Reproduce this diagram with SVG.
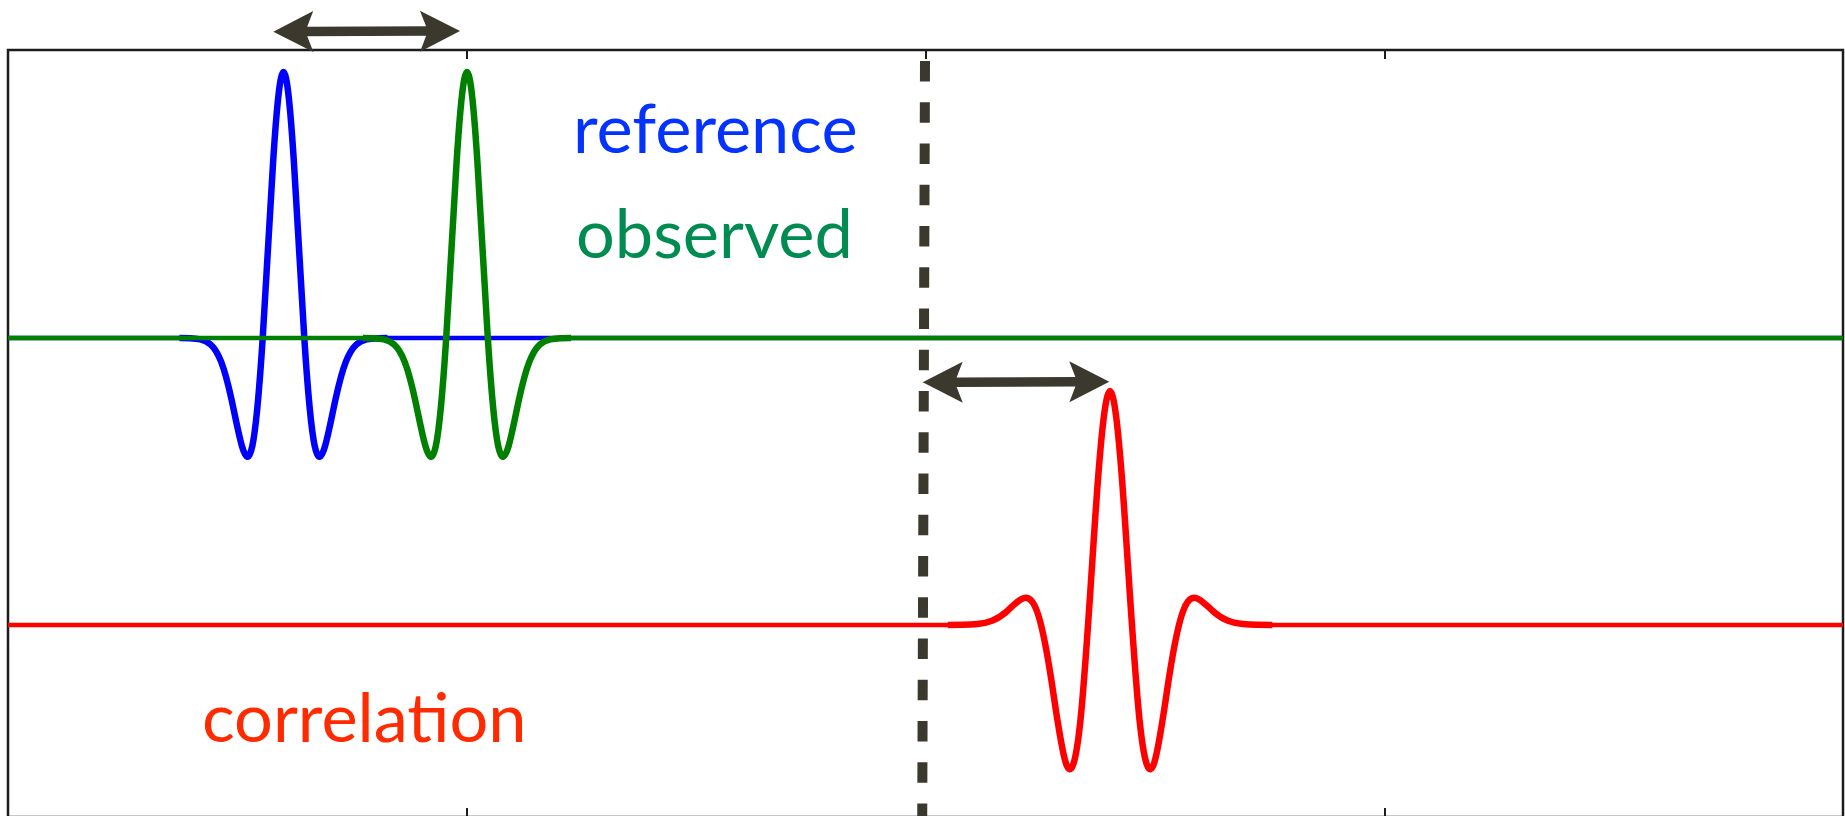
<svg xmlns="http://www.w3.org/2000/svg" xmlns:xlink="http://www.w3.org/1999/xlink" width="1845" height="816" viewBox="0 0 1845 816">
<style>
.frame{fill:none;stroke:#1c1c1c;stroke-width:2.5}
.tick{stroke:#1c1c1c;stroke-width:2}
.base{fill:none;stroke-width:4.3}
.wave{fill:none;stroke-width:6.5;stroke-linejoin:round;stroke-linecap:butt}
.blue{stroke:#0000ff}
.green{stroke:#008000}
.red{stroke:#ff0000}
.dash{stroke:#3b392e;stroke-width:10;stroke-dasharray:20.5 20.75}
.arrow{stroke:#3b392e;stroke-width:9.5;marker-start:url(#ah);marker-end:url(#ah)}
.lbl{font-family:Lato,"Liberation Sans",sans-serif;font-size:68.5px}
</style>
<defs>
<marker id="ah" viewBox="-2 -22 46 44" markerWidth="46" markerHeight="44" refX="8" refY="0" orient="auto-start-reverse" markerUnits="userSpaceOnUse">
<path d="M0,-20.5 L40,0 L0,20.5 L6,5 L6,-5 Z" fill="#3b392e"/>
</marker>
<path id="ricker" d="M-104,0 C-100.53,0 -97.07,0.06 -93.6,0.20 C-90.13,0.34 -86.67,0.57 -83.2,1.34 C-79.73,2.11 -76.27,3.40 -72.8,6.54 C-69.33,9.68 -65.87,14.78 -62.4,23.64 C-58.93,32.50 -55.47,45.53 -52,61.36 C-48.53,77.19 -45.07,96.00 -41.6,108.00 C-38.13,120.00 -34.67,124.14 -31.2,107.95 C-27.73,91.76 -24.27,53.78 -20.8,0 C-17.33,-53.78 -13.87,-122.26 -10.4,-176.06 C-6.93,-229.86 -3.47,-266 0,-266 C3.47,-266 6.93,-229.86 10.4,-176.06 C13.87,-122.26 17.33,-53.78 20.8,0 C24.27,53.78 27.73,91.76 31.2,107.95 C34.67,124.14 38.13,120.00 41.6,108.00 C45.07,96.00 48.53,77.19 52,61.36 C55.47,45.53 58.93,32.50 62.4,23.64 C65.87,14.78 69.33,9.68 72.8,6.54 C76.27,3.40 79.73,2.11 83.2,1.34 C86.67,0.57 90.13,0.34 93.6,0.20 C97.07,0.06 100.53,0 104,0"/>
</defs>
<rect width="1845" height="816" fill="#ffffff"/>
<g id="axes">
<rect class="frame" x="8" y="50" width="1835" height="767"/>
<line class="tick" x1="467" y1="50" x2="467" y2="59"/>
<line class="tick" x1="926" y1="50" x2="926" y2="59"/>
<line class="tick" x1="1385" y1="50" x2="1385" y2="59"/>
<line class="tick" x1="467" y1="808" x2="467" y2="817"/>
<line class="tick" x1="1385" y1="808" x2="1385" y2="817"/>
</g>
<g id="reference-trace">
<line class="base blue" x1="8" y1="338" x2="180" y2="338"/>
<use xlink:href="#ricker" href="#ricker" class="wave blue" x="283.5" y="338"/>
<line class="base blue" x1="387" y1="338" x2="1843" y2="338"/>
</g>
<g id="observed-trace">
<line class="base green" x1="8" y1="338" x2="363.5" y2="338"/>
<use xlink:href="#ricker" href="#ricker" class="wave green" x="467" y="338"/>
<line class="base green" x1="570.5" y1="338" x2="1843" y2="338"/>
</g>
<g id="correlation-trace">
<line class="base red" x1="8" y1="625" x2="948" y2="625"/>
<path class="wave red" d="M947.75,625 C952.67,625 957.58,624.95 962.5,624.86 C967.42,624.77 972.33,624.61 977.25,624.09 C982.17,623.57 987.08,622.67 992,620.74 C996.92,618.81 1001.83,615.67 1006.75,611.43 C1011.67,607.19 1016.58,601.61 1021.5,599.01 C1026.42,596.41 1031.33,597.31 1036.25,609.36 C1041.17,621.41 1046.08,646.11 1051,677.78 C1055.92,709.45 1060.83,747.26 1065.75,762.69 C1070.67,778.12 1075.58,766.93 1080.5,719.62 C1085.42,672.31 1090.33,589.5 1095.25,517.44 C1100.17,445.38 1105.08,391 1110,391 C1114.92,391 1119.83,445.38 1124.75,517.44 C1129.67,589.5 1134.58,672.31 1139.5,719.62 C1144.42,766.93 1149.33,778.12 1154.25,762.69 C1159.17,747.26 1164.08,709.45 1169,677.78 C1173.92,646.11 1178.83,621.41 1183.75,609.36 C1188.67,597.31 1193.58,596.41 1198.5,599.01 C1203.42,601.61 1208.33,607.19 1213.25,611.43 C1218.17,615.67 1223.08,618.81 1228,620.74 C1232.92,622.67 1237.83,623.57 1242.75,624.09 C1247.67,624.61 1252.58,624.77 1257.5,624.86 C1262.42,624.95 1267.33,625 1272.25,625"/>
<line class="base red" x1="1272" y1="625" x2="1843" y2="625"/>
</g>
<g id="zero-lag-line">
<line class="dash" x1="925" y1="61" x2="922.2" y2="824"/>
</g>
<g id="connectors">
<line class="arrow" x1="305.3" y1="31.6" x2="428" y2="31.1"/>
<line class="arrow" x1="954.7" y1="382.2" x2="1077.3" y2="381.8"/>
</g>
<g id="label-reference"><text class="lbl" x="573" y="153.3" fill="#0433ff">reference</text></g>
<g id="label-observed"><text class="lbl" x="576" y="258.3" fill="#008c50">observed</text></g>
<g id="label-correlation"><text class="lbl" x="202" y="741.7" fill="#ff2a00">correlation</text></g>
</svg>
